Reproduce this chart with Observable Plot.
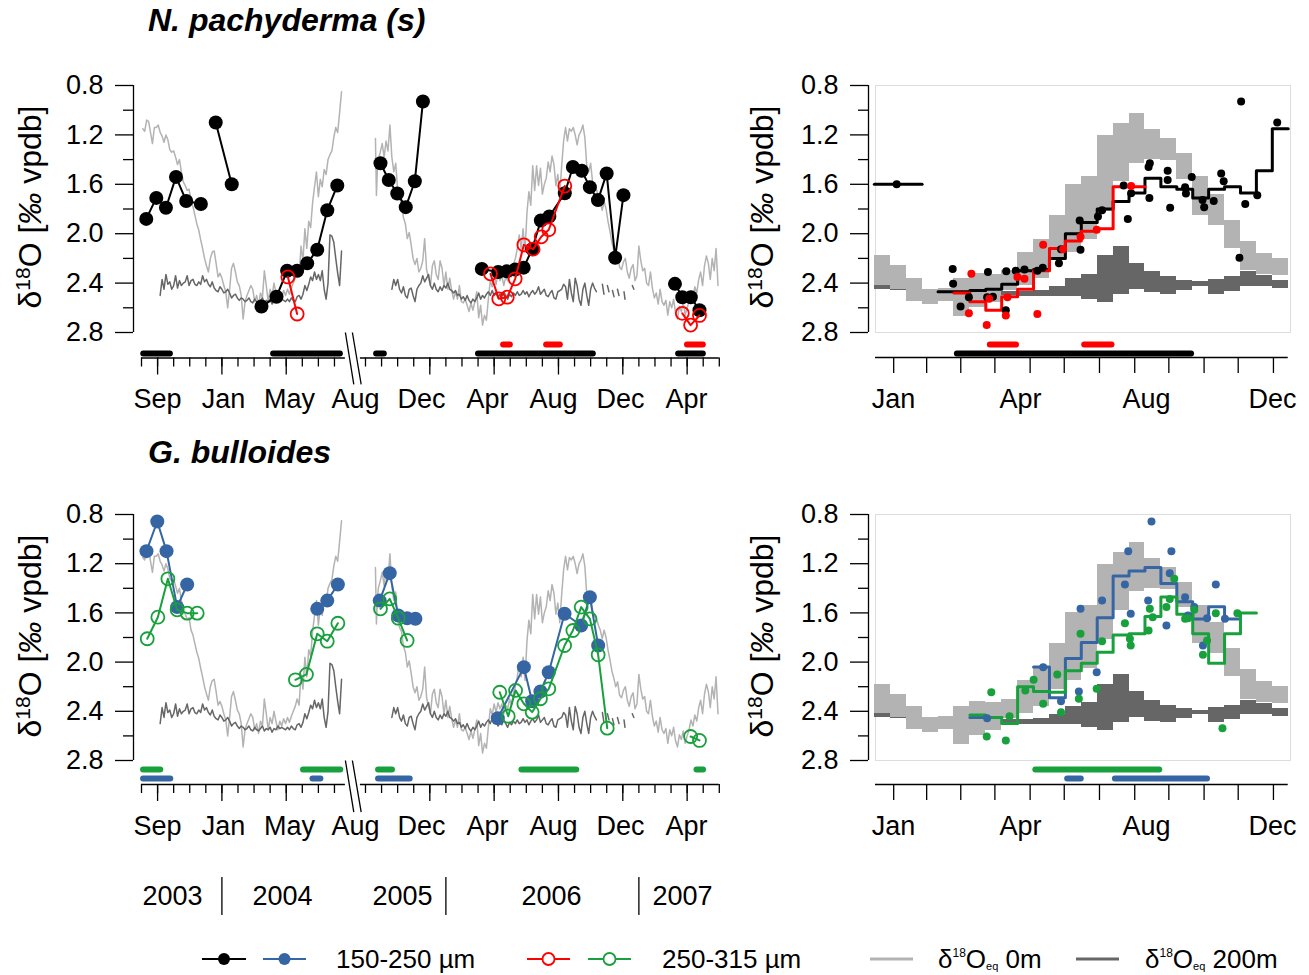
<!DOCTYPE html>
<html><head><meta charset="utf-8">
<script src="https://cdn.jsdelivr.net/npm/d3@7"></script>
<script src="https://cdn.jsdelivr.net/npm/@observablehq/plot@0.6"></script>
<style>
body{margin:0;background:#fff;}
#page{position:relative;width:1309px;height:975px;background:#fff;overflow:hidden;}
#page svg{position:absolute;overflow:visible;}
</style></head><body><div id="page"></div>
<script>
// ---------------- DATA ----------------
// Sample series: decimal year and δ18O (null = break between sampling periods)
const npSmallT = [2003.608,2003.660,2003.710,2003.762,2003.815,2003.891,null,
  2003.968,2004.051,null,
  2004.205,2004.283,2004.338,2004.390,2004.442,2004.494,2004.546,2004.598,null,
  2005.661,2005.704,2005.748,2005.792,2005.839,2005.881,null,
  2006.186,2006.271,2006.315,2006.359,2006.403,2006.447,2006.492,2006.536,2006.616,2006.658,2006.704,2006.746,2006.788,2006.833,2006.877,2006.920,null,
  2007.187,2007.225,2007.269,2007.314];
const npSmallV = [1.88,1.71,1.79,1.54,1.735,1.76,null,
  1.10,1.60,null,
  2.59,2.51,2.30,2.30,2.24,2.13,1.81,1.61,null,
  1.43,1.565,1.675,1.785,1.575,0.93,null,
  2.285,2.31,2.305,2.29,2.275,2.125,1.893,1.86,1.672,1.46,1.49,1.623,1.728,1.512,2.195,1.688,null,
  2.406,2.514,2.514,2.62];
const npLargeT = [2004.342,2004.390,null,
  2006.231,2006.274,2006.318,2006.359,2006.404,2006.452,2006.494,2006.533,2006.616,null,
  2007.225,2007.268,2007.314];
const npLargeV = [2.35,2.65,null,
  2.325,2.527,2.514,2.365,2.09,2.125,2.025,1.968,1.614,null,
  2.645,2.74,2.662];
const gbSmallT = [2003.609,2003.665,2003.713,2003.768,2003.820,null,
  2004.494,2004.546,2004.601,null,
  2005.657,2005.709,2005.753,2005.799,2005.842,null,
  2006.269,2006.404,2006.447,2006.490,2006.533,2006.615,2006.701,2006.746,2006.789];
const gbSmallV = [1.098,0.857,1.098,1.553,1.369,null,
  1.567,1.50,1.369,null,
  1.50,1.277,1.621,1.643,1.648,null,
  2.456,2.041,2.318,2.239,2.082,1.607,1.702,1.472,1.865];
const gbLargeT = [2003.613,2003.668,2003.720,2003.768,2003.820,2003.872,null,
  2004.381,2004.438,2004.494,2004.546,2004.601,null,
  2005.661,2005.709,2005.753,2005.799,null,
  2006.279,2006.323,2006.361,2006.404,2006.447,2006.490,2006.533,2006.615,2006.658,2006.701,2006.746,2006.789,2006.836,null,
  2007.268,2007.314];
const gbLargeV = [1.81,1.635,1.323,1.575,1.602,1.602,null,
  2.144,2.10,1.77,1.83,1.684,null,
  1.567,1.486,1.643,1.824,null,
  2.245,2.44,2.23,2.339,2.407,2.298,2.217,1.865,1.743,1.553,1.648,1.941,2.537,null,
  2.605,2.637];

// δ18Oeq at 0 m and 200 m: [decimal year, δ18O], null = gap
const eq0 = [[2003.59,1.15],[2003.60,1.17],[2003.61,1.08],[2003.62,1.09],[2003.63,1.18],[2003.64,1.27],[2003.65,1.14],[2003.66,1.14],[2003.67,1.12],[2003.68,1.18],[2003.69,1.21],[2003.70,1.26],[2003.71,1.20],[2003.72,1.24],[2003.73,1.32],[2003.74,1.34],[2003.75,1.33],[2003.76,1.38],[2003.77,1.44],[2003.78,1.40],[2003.79,1.50],[2003.80,1.58],[2003.81,1.61],[2003.82,1.65],[2003.83,1.64],[2003.84,1.74],[2003.85,1.78],[2003.86,1.85],[2003.87,1.92],[2003.88,1.97],[2003.89,2.05],[2003.90,2.12],[2003.91,2.20],[2003.92,2.26],[2003.93,2.31],[2003.94,2.20],[2003.95,2.15],[2003.96,2.14],[2003.97,2.24],[2003.98,2.35],[2003.99,2.32],[2004.00,2.36],[2004.01,2.42],[2004.02,2.47],[2004.03,2.60],[2004.04,2.45],[2004.05,2.28],[2004.06,2.24],[2004.07,2.31],[2004.08,2.39],[2004.09,2.42],[2004.10,2.50],[2004.11,2.69],[2004.12,2.55],[2004.13,2.50],[2004.14,2.46],[2004.15,2.42],[2004.16,2.45],[2004.17,2.55],[2004.18,2.50],[2004.19,2.58],[2004.20,2.48],[2004.21,2.52],[2004.22,2.30],[2004.23,2.42],[2004.24,2.55],[2004.25,2.45],[2004.26,2.50],[2004.27,2.40],[2004.28,2.48],[2004.29,2.55],[2004.30,2.48],[2004.31,2.52],[2004.32,2.46],[2004.33,2.50],[2004.34,2.45],[2004.35,2.49],[2004.36,2.44],[2004.37,2.40],[2004.38,2.36],[2004.39,2.30],[2004.40,2.35],[2004.41,2.10],[2004.42,2.22],[2004.43,1.96],[2004.44,2.12],[2004.45,1.90],[2004.46,1.95],[2004.47,1.75],[2004.48,1.62],[2004.49,1.50],[2004.50,1.70],[2004.51,1.56],[2004.52,1.62],[2004.53,1.48],[2004.54,1.52],[2004.55,1.40],[2004.56,1.36],[2004.57,1.33],[2004.58,1.22],[2004.59,1.14],[2004.60,1.18],[2004.61,1.02],[2004.62,0.85],
  null,
  [2005.635,1.23],[2005.64,1.69],[2005.645,1.48],[2005.65,1.40],[2005.66,1.34],[2005.67,1.27],[2005.68,1.38],[2005.69,1.25],[2005.70,1.33],[2005.71,1.12],[2005.72,1.38],[2005.73,1.50],[2005.74,1.43],[2005.75,1.65],[2005.76,1.72],[2005.77,1.75],[2005.78,1.87],[2005.79,1.92],[2005.80,2.04],[2005.81,1.99],[2005.82,2.09],[2005.83,2.20],[2005.84,2.25],[2005.85,2.20],[2005.86,2.31],[2005.87,2.28],[2005.88,2.22],[2005.89,2.04],[2005.90,2.29],[2005.91,2.36],[2005.92,2.42],[2005.93,2.26],[2005.94,2.22],[2005.95,2.33],[2005.96,2.37],[2005.97,2.22],[2005.98,2.28],[2005.99,2.42],[2006.00,2.31],[2006.01,2.45],[2006.02,2.36],[2006.03,2.46],[2006.04,2.53],[2006.05,2.47],[2006.06,2.53],[2006.07,2.42],[2006.08,2.55],[2006.09,2.56],[2006.10,2.53],[2006.11,2.58],[2006.12,2.63],[2006.13,2.56],[2006.14,2.62],[2006.15,2.55],[2006.16,2.47],[2006.17,2.68],[2006.18,2.58],[2006.19,2.74],[2006.20,2.66],[2006.21,2.70],[2006.22,2.53],[2006.23,2.38],[2006.24,2.43],[2006.25,2.34],[2006.26,2.41],[2006.27,2.33],[2006.28,2.38],[2006.29,2.34],[2006.30,2.42],[2006.31,2.35],[2006.32,2.38],[2006.33,2.30],[2006.34,2.35],[2006.35,2.25],[2006.36,2.20],[2006.37,2.12],[2006.38,2.01],[2006.39,2.12],[2006.40,1.96],[2006.41,2.15],[2006.42,1.83],[2006.43,1.66],[2006.44,1.77],[2006.45,1.45],[2006.46,1.65],[2006.47,1.45],[2006.48,1.61],[2006.49,1.47],[2006.50,1.68],[2006.51,1.60],[2006.52,1.55],[2006.53,1.42],[2006.54,1.50],[2006.55,1.37],[2006.56,1.44],[2006.57,1.61],[2006.58,1.52],[2006.59,1.68],[2006.60,1.45],[2006.61,1.25],[2006.62,1.14],[2006.63,1.25],[2006.64,1.15],[2006.65,1.17],[2006.66,1.14],[2006.67,1.20],[2006.68,1.28],[2006.69,1.20],[2006.70,1.17],[2006.71,1.12],[2006.72,1.22],[2006.73,1.45],[2006.74,1.50],[2006.75,1.43],[2006.76,1.58],[2006.77,1.63],[2006.78,1.64],[2006.79,1.70],[2006.80,1.74],[2006.81,1.81],[2006.82,1.74],[2006.83,1.80],[2006.84,1.90],[2006.85,1.98],[2006.86,2.07],[2006.87,2.13],[2006.88,2.20],[2006.89,2.16],[2006.90,2.27],[2006.91,2.29],[2006.92,2.23],[2006.93,2.20],[2006.94,2.31],[2006.95,2.36],[2006.96,2.28],[2006.97,2.25],[2006.98,2.38],[2006.99,2.34],[2007.00,2.10],[2007.01,2.22],[2007.02,2.30],[2007.03,2.28],[2007.04,2.40],[2007.05,2.42],[2007.06,2.31],[2007.07,2.44],[2007.08,2.52],[2007.09,2.48],[2007.10,2.57],[2007.11,2.45],[2007.12,2.55],[2007.13,2.58],[2007.14,2.54],[2007.15,2.66],[2007.16,2.55],[2007.17,2.60],[2007.18,2.53],[2007.19,2.64],[2007.20,2.69],[2007.21,2.59],[2007.22,2.63],[2007.23,2.56],[2007.24,2.66],[2007.25,2.60],[2007.26,2.55],[2007.27,2.47],[2007.28,2.52],[2007.29,2.43],[2007.30,2.48],[2007.31,2.37],[2007.32,2.31],[2007.33,2.42],[2007.34,2.26],[2007.35,2.18],[2007.36,2.24],[2007.37,2.37],[2007.38,2.20],[2007.39,2.30],[2007.40,2.12],[2007.41,2.42]];
const eq200 = [[2003.68,2.50],[2003.69,2.37],[2003.70,2.45],[2003.71,2.33],[2003.72,2.41],[2003.73,2.39],[2003.74,2.45],[2003.75,2.42],[2003.76,2.34],[2003.77,2.44],[2003.78,2.38],[2003.79,2.42],[2003.80,2.40],[2003.81,2.39],[2003.82,2.34],[2003.83,2.42],[2003.84,2.38],[2003.85,2.37],[2003.86,2.41],[2003.87,2.42],[2003.88,2.39],[2003.89,2.41],[2003.90,2.34],[2003.91,2.39],[2003.92,2.37],[2003.93,2.41],[2003.94,2.43],[2003.95,2.39],[2003.96,2.44],[2003.97,2.46],[2003.98,2.47],[2003.99,2.43],[2004.00,2.45],[2004.01,2.48],[2004.02,2.47],[2004.03,2.45],[2004.04,2.48],[2004.05,2.52],[2004.06,2.50],[2004.07,2.49],[2004.08,2.52],[2004.09,2.54],[2004.10,2.52],[2004.11,2.53],[2004.12,2.55],[2004.13,2.54],[2004.14,2.52],[2004.15,2.55],[2004.16,2.56],[2004.17,2.53],[2004.18,2.55],[2004.19,2.56],[2004.20,2.54],[2004.21,2.52],[2004.22,2.56],[2004.23,2.54],[2004.24,2.55],[2004.25,2.53],[2004.26,2.57],[2004.27,2.54],[2004.28,2.55],[2004.29,2.52],[2004.30,2.54],[2004.31,2.53],[2004.32,2.54],[2004.33,2.55],[2004.34,2.53],[2004.35,2.55],[2004.36,2.52],[2004.37,2.54],[2004.38,2.55],[2004.39,2.51],[2004.40,2.50],[2004.41,2.53],[2004.42,2.49],[2004.43,2.42],[2004.44,2.46],[2004.45,2.41],[2004.46,2.35],[2004.47,2.38],[2004.48,2.31],[2004.49,2.37],[2004.50,2.33],[2004.51,2.38],[2004.52,2.30],[2004.53,2.45],[2004.54,2.53],[2004.55,2.40],[2004.56,2.01],[2004.57,2.02],[2004.58,2.07],[2004.59,2.20],[2004.60,2.32],[2004.61,2.42],[2004.62,2.14],
  null,
  [2005.72,2.45],[2005.73,2.37],[2005.74,2.42],[2005.75,2.37],[2005.76,2.45],[2005.77,2.48],[2005.78,2.43],[2005.79,2.50],[2005.80,2.52],[2005.81,2.45],[2005.82,2.44],[2005.83,2.50],[2005.84,2.55],[2005.85,2.45],[2005.86,2.42],[2005.87,2.40],[2005.88,2.34],[2005.89,2.39],[2005.90,2.36],[2005.91,2.33],[2005.92,2.42],[2005.93,2.45],[2005.94,2.40],[2005.95,2.45],[2005.96,2.47],[2005.97,2.43],[2005.98,2.46],[2005.99,2.42],[2006.00,2.44],[2006.01,2.40],[2006.02,2.45],[2006.03,2.46],[2006.04,2.48],[2006.05,2.46],[2006.06,2.50],[2006.07,2.49],[2006.08,2.53],[2006.09,2.51],[2006.10,2.54],[2006.11,2.50],[2006.12,2.54],[2006.13,2.56],[2006.14,2.53],[2006.15,2.55],[2006.16,2.52],[2006.17,2.48],[2006.18,2.53],[2006.19,2.50],[2006.20,2.52],[2006.21,2.49],[2006.22,2.47],[2006.23,2.50],[2006.24,2.46],[2006.25,2.50],[2006.26,2.48],[2006.27,2.52],[2006.28,2.49],[2006.29,2.51],[2006.30,2.47],[2006.31,2.50],[2006.32,2.53],[2006.33,2.49],[2006.34,2.51],[2006.35,2.48],[2006.36,2.50],[2006.37,2.47],[2006.38,2.50],[2006.39,2.49],[2006.40,2.46],[2006.41,2.49],[2006.42,2.47],[2006.43,2.51],[2006.44,2.48],[2006.45,2.46],[2006.46,2.49],[2006.47,2.47],[2006.48,2.43],[2006.49,2.49],[2006.50,2.47],[2006.51,2.45],[2006.52,2.50],[2006.53,2.51],[2006.54,2.48],[2006.55,2.46],[2006.56,2.52],[2006.57,2.53],[2006.58,2.47],[2006.59,2.46],[2006.60,2.45],[2006.61,2.41],[2006.62,2.43],[2006.63,2.53],[2006.64,2.37],[2006.65,2.48],[2006.66,2.55],[2006.67,2.36],[2006.68,2.42],[2006.69,2.53],[2006.70,2.58],[2006.71,2.45],[2006.72,2.40],[2006.73,2.50],[2006.74,2.58],[2006.75,2.45],[2006.76,2.40],[2006.77,2.44],[2006.78,2.47],
  null,[2006.811,2.41],[2006.819,2.49],null,[2006.837,2.42],[2006.845,2.47],null,[2006.863,2.46],[2006.871,2.51],null,[2006.889,2.45],[2006.897,2.50],null,[2006.923,2.47],[2006.928,2.53],null,[2006.966,2.42],[2006.974,2.45]];

// Sampling periods (decimal years) shown as bars under the time series
const npSmallBars = [[2003.595,2003.733],[2004.268,2004.614],[2005.641,2005.681],[2006.169,2006.764],[2007.206,2007.334]];
const npLargeBars = [[2006.299,2006.334],[2006.522,2006.593],[2007.252,2007.334]];
const gbSmallBars = [[2003.594,2003.735],[2004.472,2004.513],[2005.651,2005.815]];
const gbLargeBars = [[2003.594,2003.683],[2004.423,2004.616],[2005.651,2005.723],[2006.394,2006.678],[2007.301,2007.335]];
// Seasonal sampling periods (day of year)
const npSmallSeasonBars = [[72,278]];
const npLargeSeasonBars = [[101,124],[184,208]];
const gbSmallSeasonBars = [[169,181],[211,292]];
const gbLargeSeasonBars = [[141,250]];

// Seasonal composite: 14-day bins (day of year edges)
const binEdges = [-1,13,27,41,55,69,83,97,111,125,139,153,167,181,195,209,223,237,251,265,279,293,307,321,335,349,363];
const eq0Top = [2.18,2.26,2.36,2.45,2.44,2.36,2.32,2.33,2.30,2.15,2.05,1.85,1.60,1.54,1.205,1.11,1.03,1.16,1.23,1.35,1.54,1.68,1.89,2.06,2.16,2.20];
const eq0Bot = [2.42,2.45,2.55,2.57,2.55,2.67,2.60,2.56,2.46,2.42,2.36,2.22,2.15,2.05,1.82,1.58,1.43,1.40,1.41,1.56,1.85,1.93,2.12,2.30,2.33,2.34];
const eq200Top = [2.42,2.43,2.44,2.46,2.47,2.48,2.48,2.48,2.47,2.47,2.46,2.43,2.36,2.33,2.18,2.10,2.24,2.31,2.35,2.38,2.39,2.37,2.35,2.31,2.34,2.38];
const eq200Bot = [2.45,2.46,2.47,2.49,2.50,2.51,2.51,2.50,2.50,2.51,2.51,2.51,2.51,2.53,2.56,2.49,2.45,2.48,2.49,2.46,2.43,2.49,2.47,2.43,2.43,2.44];
const npSmallStep = [1.60,1.60,1.60,null,2.47,2.47,2.46,2.45,2.41,2.30,2.29,2.20,2.00,1.91,1.80,1.74,1.67,1.55,1.62,1.64,1.71,1.64,1.62,1.67,1.49,1.15];
const npLargeStep = [null,null,null,null,null,2.48,2.55,2.62,2.51,2.45,2.30,2.12,2.06,1.98,1.96,1.62,1.62,null,null,null,null,null,null,null,null,null];
const gbSmallStep = [null,null,null,null,null,null,2.45,2.45,null,null,2.04,2.29,1.97,1.84,1.64,1.30,1.26,1.23,1.36,1.51,1.65,1.55,1.65,null,null,null];
const gbLargeStep = [null,null,null,null,null,null,2.43,2.45,2.50,2.20,2.24,2.245,2.07,2.01,1.92,1.78,1.77,1.63,1.47,1.61,1.77,2.01,1.77,1.60,null,null];

// Axes
const yMajor = [0.8,1.2,1.6,2.0,2.4,2.8];
const yMinor = [1.0,1.4,1.8,2.2,2.6];
const timeLabels = ["Sep","Jan","May","Aug","Dec","Apr","Aug","Dec","Apr"];
const timeLabelPos = [2003.666,2004.008,2004.350,2005.257,2005.874,2006.216,2006.558,2006.905,2007.247];
const seasonLabels = ["Jan","Apr","Aug","Dec"];
const seasonLabelPos = [15.8,127.5,238.3,349.2];
const seasonTicks = [16,45,75,105,136,166,197,228,258,289,319,350];
const years = ["2003","2004","2005","2006","2007"];
const yearPos = [2003.744,2004.314,2005.775,2006.547,2007.226];
const yearBreaks = [2004,2006,2007];
const titles = ["N. pachyderma (s)","G. bulloides"];
const legendLabels = ["150-250 µm","250-315 µm","0m","200m"];

// ---------------- HELPERS ----------------
const FONT = "'Liberation Sans', Arial, Helvetica, sans-serif";
const BLUE = "#3566a3", GREEN = "#17a03c", RED = "#ff0000", LIGHT = "#b3b3b3", DARK = "#666666";
const X_DOMAIN = [2003.5833, 2004.64, 2005.557, 2007.4167];   // broken time axis
const X_RANGE = [141, 344.9, 359.9, 718.8];
const monthTicks = [...d3.range(7, 20).map(i => 2003 + i / 12), ...d3.range(7, 30).map(i => 2005 + i / 12)];
const majorTicks = [2003 + 8/12, 2004, 2004 + 4/12, 2005 + 11/12, 2006 + 3/12, 2006 + 7/12, 2006 + 11/12, 2007 + 3/12];
const axisSegs = [{a: X_DOMAIN[0], b: X_DOMAIN[1]}, {a: X_DOMAIN[2], b: X_DOMAIN[3]}];
const breakLinks = [{a: 2004.64, b: 2005.153}, {a: 2005.068, b: 2005.561}];

const rows = (t, v) => t.map((d, i) => ({t: d, v: v[i]}));
const pairRows = p => p.map(d => d ? {t: d[0], v: d[1]} : {t: null, v: null});
const seasonRows = (t, v) => rows(t, v).filter(d => d.t != null && d.v != null)
  .map(d => ({doy: (d.t - Math.floor(d.t)) * 365, v: d.v}));
const spanRows = s => s.map(([a, b]) => ({a, b}));
const bandRows = (top, bot) => top.map((t, i) => ({x1: binEdges[i], x2: binEdges[i + 1], y1: t, y2: bot[i]}));
function stepRows(values) {
  const out = []; let seg = 0;
  values.forEach((v, i) => {
    if (v == null) { seg++; return; }
    out.push({x: binEdges[i], y: v, seg}, {x: binEdges[i + 1], y: v, seg});
  });
  return out;
}
const baseStyle = {fontFamily: FONT, fontSize: "27px", color: "black", background: "transparent", overflow: "visible", maxWidth: "none"};
const page = document.getElementById("page");
function place(svg, left, top) { svg.style.left = left + "px"; svg.style.top = top + "px"; page.appendChild(svg); }

function timePanel(o) {
  const small = rows(o.smallT, o.smallV), large = rows(o.largeT, o.largeV);
  return Plot.plot({
    width: 740, height: 430, marginLeft: 133, marginRight: 20, marginTop: o.yRange[0], marginBottom: 430 - o.yRange[1],
    style: baseStyle,
    x: {type: "linear", domain: X_DOMAIN, range: X_RANGE},
    y: {domain: [0.8, 2.8], range: o.yRange},
    marks: [
      Plot.ruleX([X_DOMAIN[0]], {y1: 0.8, y2: 2.8, dx: -8, stroke: "black", strokeWidth: 1.3}),
      Plot.axisY(yMajor, {tickSize: 18, tickPadding: 12, tickFormat: d3.format(".1f"), fontSize: 27, strokeWidth: 1.3, label: null}),
      Plot.axisY(yMinor, {tickSize: 10, tickFormat: () => "", strokeWidth: 1.3, label: null}),
      Plot.line(pairRows(eq0), {x: "t", y: "v", stroke: LIGHT, strokeWidth: 1.5}),
      Plot.line(pairRows(eq200), {x: "t", y: "v", stroke: DARK, strokeWidth: 1.5}),
      Plot.line(small, {x: "t", y: "v", stroke: o.smallColor, strokeWidth: 2}),
      Plot.dot(small, {x: "t", y: "v", r: 7, fill: o.smallColor}),
      Plot.line(large, {x: "t", y: "v", stroke: o.largeColor, strokeWidth: 2}),
      Plot.dot(large, {x: "t", y: "v", r: 6.5, stroke: o.largeColor, strokeWidth: 1.8, fill: "none"}),
      Plot.ruleY(spanRows(o.upperBars), {x1: "a", x2: "b", y: 2.8, dy: o.upperDy, stroke: o.upperColor, strokeWidth: 6, strokeLinecap: "round"}),
      Plot.ruleY(spanRows(o.lowerBars), {x1: "a", x2: "b", y: 2.8, dy: o.lowerDy, stroke: o.lowerColor, strokeWidth: 6, strokeLinecap: "round"}),
      Plot.ruleY(axisSegs, {x1: "a", x2: "b", y: 2.8, dy: o.axisDy, stroke: "black", strokeWidth: 1.3}),
      Plot.axisX(monthTicks, {tickSize: 9, dy: o.axisDy, tickFormat: () => "", strokeWidth: 1.3, label: null}),
      Plot.axisX(majorTicks, {tickSize: 17, dy: o.axisDy, tickFormat: () => "", strokeWidth: 1.3, label: null}),
      Plot.text(timeLabels.map((l, i) => ({label: l, pos: timeLabelPos[i]})), {x: "pos", y: 2.8, text: "label", dy: o.labelDy, fontSize: 27}),
      Plot.link(breakLinks, {x1: "a", x2: "b", y1: 2.8, y2: 3.22, stroke: "black", strokeWidth: 1.3})
    ]
  });
}

function seasonPanel(o) {
  return Plot.plot({
    width: 569, height: 430, marginLeft: 135, marginRight: 19, marginTop: o.yRange[0], marginBottom: 430 - o.yRange[1],
    style: baseStyle,
    x: {domain: [0, 365]},
    y: {domain: [0.8, 2.8], range: o.yRange},
    marks: [
      Plot.frame({stroke: "#dddddd", strokeWidth: 1}),
      Plot.rect(bandRows(eq200Top, eq200Bot), {x1: "x1", x2: "x2", y1: "y1", y2: "y2", fill: DARK, shapeRendering: "crispEdges"}),
      Plot.rect(bandRows(eq0Top, eq0Bot), {x1: "x1", x2: "x2", y1: "y1", y2: "y2", fill: LIGHT, shapeRendering: "crispEdges"}),
      Plot.ruleX([0], {y1: 0.8, y2: 2.8, dx: -7, stroke: "black", strokeWidth: 1.3}),
      Plot.axisY(yMajor, {tickSize: 18, tickPadding: 12, dx: -7, tickFormat: d3.format(".1f"), fontSize: 27, strokeWidth: 1.3, label: null}),
      Plot.axisY(yMinor, {tickSize: 10, dx: -7, tickFormat: () => "", strokeWidth: 1.3, label: null}),
      Plot.line(stepRows(o.smallStep), {x: "x", y: "y", z: "seg", stroke: o.smallColor, strokeWidth: 3}),
      Plot.line(stepRows(o.largeStep), {x: "x", y: "y", z: "seg", stroke: o.largeColor, strokeWidth: 3}),
      Plot.dot(seasonRows(o.smallT, o.smallV), {x: "doy", y: "v", r: 4, fill: o.smallColor}),
      Plot.dot(seasonRows(o.largeT, o.largeV), {x: "doy", y: "v", r: 4, fill: o.largeColor}),
      Plot.ruleY(spanRows(o.upperBars), {x1: "a", x2: "b", y: 2.8, dy: o.upperDy, stroke: o.upperColor, strokeWidth: 6, strokeLinecap: "round"}),
      Plot.ruleY(spanRows(o.lowerBars), {x1: "a", x2: "b", y: 2.8, dy: o.lowerDy, stroke: o.lowerColor, strokeWidth: 6, strokeLinecap: "round"}),
      Plot.ruleY([{a: 0, b: 363}], {x1: "a", x2: "b", y: 2.8, dy: o.axisDy, stroke: "black", strokeWidth: 1.3}),
      Plot.axisX(seasonTicks, {tickSize: 16, dy: o.axisDy, tickFormat: () => "", strokeWidth: 1.3, label: null}),
      Plot.text(seasonLabels.map((l, i) => ({label: l, pos: seasonLabelPos[i]})), {x: "pos", y: 2.8, text: "label", dy: o.labelDy, fontSize: 27})
    ]
  });
}

// ---------------- PANELS ----------------
place(timePanel({yRange: [85, 332], smallT: npSmallT, smallV: npSmallV, largeT: npLargeT, largeV: npLargeV,
  smallColor: "black", largeColor: RED,
  upperBars: npLargeBars, upperColor: RED, upperDy: 12, lowerBars: npSmallBars, lowerColor: "black", lowerDy: 21,
  axisDy: 25.5, labelDy: 67}), 0, 0);
place(seasonPanel({yRange: [85, 332], smallT: npSmallT, smallV: npSmallV, largeT: npLargeT, largeV: npLargeV,
  smallStep: npSmallStep, largeStep: npLargeStep, smallColor: "black", largeColor: RED,
  upperBars: npLargeSeasonBars, upperColor: RED, upperDy: 12, lowerBars: npSmallSeasonBars, lowerColor: "black", lowerDy: 21,
  axisDy: 25, labelDy: 67}), 740, 0);
place(timePanel({yRange: [85, 331], smallT: gbSmallT, smallV: gbSmallV, largeT: gbLargeT, largeV: gbLargeV,
  smallColor: BLUE, largeColor: GREEN,
  upperBars: gbLargeBars, upperColor: GREEN, upperDy: 9, lowerBars: gbSmallBars, lowerColor: BLUE, lowerDy: 18,
  axisDy: 24, labelDy: 66}), 0, 429);
place(seasonPanel({yRange: [85, 331], smallT: gbSmallT, smallV: gbSmallV, largeT: gbLargeT, largeV: gbLargeV,
  smallStep: gbSmallStep, largeStep: gbLargeStep, smallColor: BLUE, largeColor: GREEN,
  upperBars: gbLargeSeasonBars, upperColor: GREEN, upperDy: 9, lowerBars: gbSmallSeasonBars, lowerColor: BLUE, lowerDy: 18,
  axisDy: 24, labelDy: 66}), 740, 429);

// Year row under the bottom time axis
place(Plot.plot({
  width: 740, height: 38, marginLeft: 133, marginRight: 20, marginTop: 0, marginBottom: 0,
  style: baseStyle,
  x: {type: "linear", domain: X_DOMAIN, range: X_RANGE, axis: null},
  marks: [
    Plot.ruleX(yearBreaks, {stroke: "black", strokeWidth: 1.3}),
    Plot.text(years.map((y, i) => ({y, pos: yearPos[i]})), {x: "pos", text: "y", fontSize: 27})
  ]
}), 0, 877);

// ---------------- TEXT OVERLAY & LEGEND ----------------
const ov = d3.select(page).append("svg").attr("width", 1309).attr("height", 975)
  .style("left", "0px").style("top", "0px").style("font-family", FONT).style("pointer-events", "none");
[[titles[0], 31], [titles[1], 463]].forEach(([t, y]) =>
  ov.append("text").attr("x", 148).attr("y", y).attr("font-size", 32).attr("font-weight", "bold").attr("font-style", "italic").text(t));
function yTitle(x, y) {
  const t = ov.append("text").attr("transform", `translate(${x},${y}) rotate(-90)`).attr("text-anchor", "middle").attr("font-size", 32);
  t.append("tspan").text("δ");
  t.append("tspan").attr("font-size", 21).attr("baseline-shift", "super").text("18");
  t.append("tspan").text("O [");
  t.append("tspan").attr("font-style", "italic").text("‰");
  t.append("tspan").text(" vpdb]");
}
yTitle(41, 207); yTitle(773, 207); yTitle(41, 636); yTitle(773, 636);

const LY = 959;
const lg = ov.append("g").attr("font-size", 26);
function lgLine(x1, x2, color, w) { lg.append("line").attr("x1", x1).attr("x2", x2).attr("y1", LY).attr("y2", LY).attr("stroke", color).attr("stroke-width", w); }
function lgDot(cx, color, filled) {
  lg.append("circle").attr("cx", cx).attr("cy", LY).attr("r", 6)
    .attr("fill", filled ? color : "white").attr("stroke", color).attr("stroke-width", filled ? 0 : 1.8);
}
lgLine(202, 246, "black", 2); lgDot(224, "black", true);
lgLine(263, 306, BLUE, 2); lgDot(284.5, BLUE, true);
lg.append("text").attr("x", 336).attr("y", LY + 9).text(legendLabels[0]);
lgLine(527, 570, RED, 2); lgDot(548.5, RED, false);
lgLine(588, 631, GREEN, 2); lgDot(609.5, GREEN, false);
lg.append("text").attr("x", 662).attr("y", LY + 9).text(legendLabels[1]);
function eqLabel(x, suffix) {
  const t = lg.append("text").attr("x", x).attr("y", LY + 9);
  t.append("tspan").text("δ");
  t.append("tspan").attr("font-size", 12).attr("dy", -11).text("18");
  t.append("tspan").attr("dy", 11).text("O");
  t.append("tspan").attr("font-size", 11).attr("dy", 2).text("eq");
  t.append("tspan").attr("dy", -2).text(" " + suffix);
}
lgLine(870, 913, LIGHT, 3); eqLabel(938, legendLabels[2]);
lgLine(1076, 1119, DARK, 3); eqLabel(1145, legendLabels[3]);
</script></body></html>
